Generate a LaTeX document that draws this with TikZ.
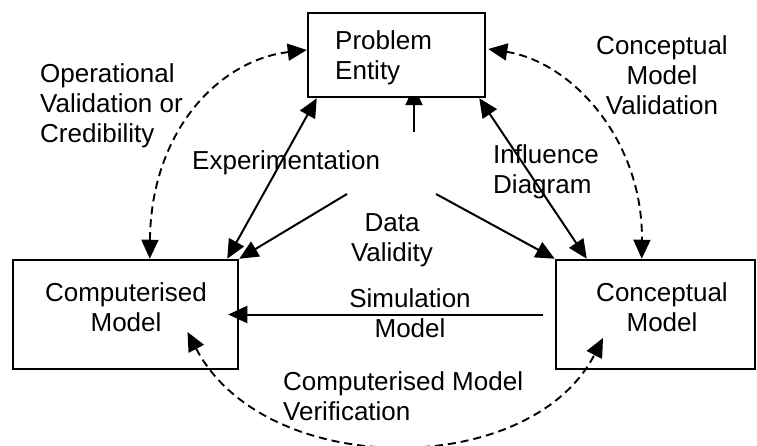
\documentclass[tikz,border=0pt]{standalone}
\usepackage{fontspec}
\setmainfont{Liberation Sans}
\usetikzlibrary{arrows.meta,calc}
\pgfdeclarelayer{behind}
\pgfsetlayers{behind,main}
\begin{document}
\begin{tikzpicture}[x=1pt,y=-1pt,
  box/.style={draw, fill=white, line width=2.5pt, inner sep=0pt},
  lbl/.style={font=\fontsize{26}{30}\selectfont, inner sep=0pt},
  tip/.tip={Triangle[length=19pt,width=17pt]},
  link/.style={line width=2pt, -tip},
  twoway/.style={line width=2pt, tip-tip},
  dlink/.style={line width=1.9pt, dash pattern=on 8pt off 5pt, tip-tip}]
\useasboundingbox (0,0) rectangle (757,446);

% the three model boxes
\node[box, minimum width=177pt, minimum height=84pt] (pe) at (396.5,55) {};
\node[lbl, align=left, anchor=west] (pe-t) at (335,58) {Problem\\Entity};
\node[box, minimum width=225pt, minimum height=109pt] (cm) at (125.5,314.5) {};
\node[lbl, align=center] (cm-t) at (126,307) {Computerised\\Model};
\node[box, minimum width=199pt, minimum height=109pt] (cf) at (655.5,314.5) {};
\node[lbl, align=center] (cf-t) at (662,307) {Conceptual\\Model};

% labels
\node[lbl, align=left, anchor=west] (opv) at (40,106) {Operational\\Validation or\\Credibility};
\node[lbl, align=center] (cmv) at (662,75) {Conceptual\\Model\\Validation};
\node[lbl, anchor=west] (exp) at (192,163) {Experimentation};
\node[lbl, align=left, anchor=west] (inf) at (493,172) {Influence\\Diagram};
\node[lbl, align=center] (dv) at (392,240) {Data\\Validity};
\node[lbl, align=center] (sim) at (410,313) {Simulation\\Model};
\node[lbl, align=left, anchor=west] (ver) at (283,396) {Computerised Model\\Verification};

% free ends of the data-validity and simulation arrows
\coordinate (dv-up) at (414,132);
\coordinate (dv-l) at (347,194);
\coordinate (dv-r) at (436,194);
\coordinate (sim-s) at (543,314.5);

% the short upward arrow runs under the Problem Entity box
\begin{pgfonlayer}{behind}
\draw[link] (dv-up) -- ($(dv-up |- pe.south)+(0,-12)$);
\end{pgfonlayer}

% solid connectors
\draw[twoway] ($(pe.south west)+(10,0)$) -- ($(cm.north east)+(-12,0)$);
\draw[link] (dv-l) -- (cm.north east);
\draw[link] (dv-r) -- (cf.north west);
\draw[twoway] ($(pe.south east)+(-7,0)$) -- ($(cf.north west)+(32,0)$);
\draw[link] (sim-s) -- ($(cm.east)+(-11,0)$);

% dashed validation / verification arcs
\draw[dlink] ($(cm.north west)+(138,0)$) .. controls (151,130) and (220,60) .. ($(pe.west)+(0,-5)$);
\draw[dlink] ($(pe.east)+(2,-6)$) .. controls (572,62) and (643,140) .. ($(cf.north west)+(87,0)$);
\draw[dlink] ($(cm.center)+(62,17.5)$) .. controls (265,480) and (530,480) .. ($(cf.center)+(-52.5,23.5)$);
\end{tikzpicture}
\end{document}
